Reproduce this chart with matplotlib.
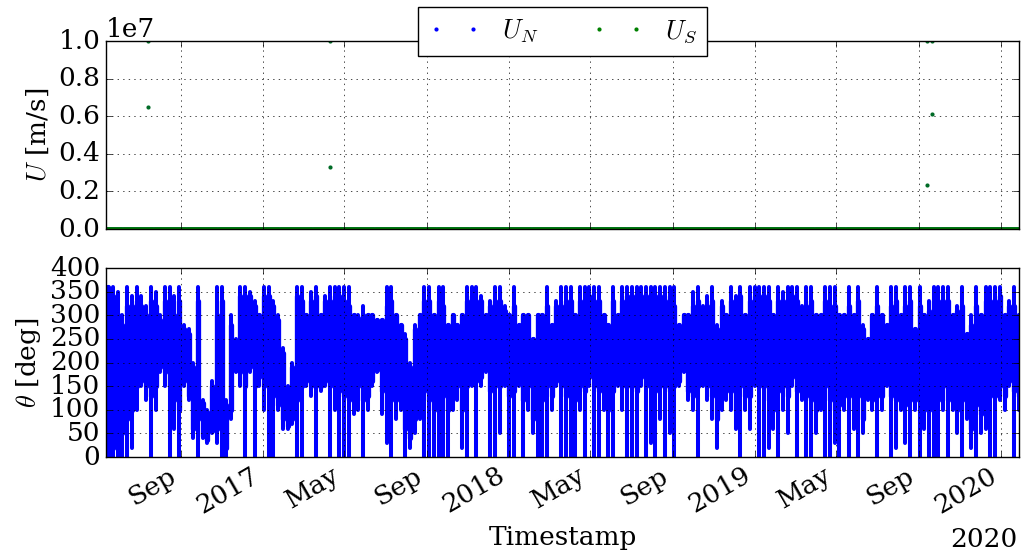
import numpy as np
import pandas as pd
import matplotlib
matplotlib.use("Agg")
import matplotlib.pyplot as plt
import matplotlib.dates as mdates

plt.style.use("classic")
plt.rcParams["font.family"] = "serif"
plt.rcParams["font.serif"] = ["DejaVu Serif"]
plt.rcParams["mathtext.fontset"] = "cm"
plt.rcParams["font.size"] = 19

# ---------------- data ----------------
week_start = "2016-05-13"      # first sample
last_sample = "2020-01-28"     # last sample
offset_label = "2020"

# weekly full extent of wind direction theta [deg] (sparse sweeps)
theta_lo = [0, 0, 0, 0, 0, 20, 100, 150, 120, 0, 100, 180, 150, 0, 60, 0, 150, 120, 40, 0,
            40, 30, 50, 30, 0, 0, 80, 180, 150, 0, 180, 0, 150, 100, 0, 0, 100, 60, 60, 70,
            0, 0, 150, 130, 0, 140, 150, 0, 100, 0, 0, 0, 90, 100, 0, 100, 150, 180, 90, 30,
            0, 80, 100, 0, 20, 50, 80, 0, 0, 0, 0, 0, 0, 100, 120, 20, 0, 150, 0, 150,
            180, 0, 0, 50, 150, 0, 0, 150, 0, 100, 50, 0, 0, 0, 100, 150, 0, 0, 0, 0,
            100, 0, 150, 0, 0, 100, 0, 0, 150, 100, 0, 0, 0, 150, 0, 30, 0, 80, 0, 50,
            0, 150, 180, 120, 100, 0, 150, 120, 80, 20, 100, 120, 100, 60, 0, 100, 60, 150, 0, 0,
            20, 60, 0, 100, 50, 150, 0, 120, 0, 0, 50, 100, 0, 0, 30, 0, 100, 0, 60, 0,
            50, 120, 100, 0, 100, 150, 0, 20, 100, 30, 0, 100, 0, 60, 0, 0, 0, 100, 0, 100,
            50, 0, 80, 20, 0, 50, 60, 0, 0, 120, 100, 150, 0, 100]
theta_hi = [360, 360, 350, 300, 360, 340, 360, 340, 320, 360, 350, 300, 360, 360, 340, 360, 280, 270, 200, 360,
            120, 100, 160, 360, 360, 120, 300, 250, 360, 360, 350, 330, 300, 360, 360, 330, 300, 230, 150, 200,
            360, 360, 300, 350, 360, 300, 340, 360, 360, 360, 360, 360, 300, 300, 320, 300, 300, 290, 290, 360,
            360, 300, 280, 260, 200, 280, 300, 360, 360, 300, 360, 360, 280, 300, 280, 300, 360, 360, 360, 340,
            300, 330, 360, 360, 320, 300, 360, 280, 300, 300, 250, 300, 300, 360, 280, 330, 360, 360, 360, 300,
            360, 360, 360, 360, 360, 300, 280, 360, 300, 360, 360, 360, 360, 360, 360, 360, 360, 360, 360, 360,
            360, 280, 300, 300, 350, 360, 320, 340, 360, 280, 330, 300, 360, 340, 360, 300, 360, 360, 360, 360,
            360, 300, 360, 350, 360, 360, 360, 320, 360, 360, 300, 300, 360, 360, 360, 300, 300, 360, 300, 360,
            280, 250, 300, 360, 300, 280, 360, 360, 300, 360, 360, 270, 360, 300, 330, 360, 360, 360, 360, 300,
            320, 360, 260, 300, 360, 300, 360, 360, 360, 360, 300, 330, 360, 300]

# weekly dense core of theta [deg]
core_lo = [0, 20, 40, 50, 80, 100, 150, 160, 150, 130,
           150, 190, 180, 150, 120, 100, 160, 130, 60, 80,
           45, 35, 55, 60, 100, 20, 100, 185, 180, 150,
           190, 150, 170, 150, 150, 130, 110, 80, 65, 80,
           120, 150, 160, 150, 150, 150, 160, 150, 150, 140,
           130, 120, 150, 150, 120, 130, 160, 185, 140, 100,
           120, 120, 120, 60, 40, 80, 120, 140, 120, 100,
           150, 130, 100, 150, 150, 100, 150, 180, 160, 170,
           190, 140, 150, 150, 170, 130, 140, 160, 120, 150,
           80, 100, 120, 150, 130, 160, 150, 130, 150, 120,
           150, 140, 170, 150, 140, 150, 100, 140, 170, 150,
           150, 150, 140, 170, 150, 150, 140, 150, 150, 140,
           150, 160, 185, 140, 130, 150, 170, 150, 130, 80,
           130, 140, 140, 100, 150, 130, 130, 180, 150, 150,
           120, 100, 140, 150, 130, 170, 140, 150, 130, 120,
           100, 130, 150, 120, 100, 110, 130, 130, 100, 130,
           80, 130, 120, 130, 130, 160, 130, 120, 130, 110,
           120, 120, 120, 100, 100, 130, 120, 150, 120, 130,
           100, 120, 100, 60, 110, 90, 120, 130, 130, 150,
           130, 160, 140, 130]
core_hi = [360, 340, 300, 280, 320, 320, 330, 320, 300, 330,
           320, 290, 330, 330, 300, 330, 270, 260, 190, 330,
           115, 95, 150, 300, 330, 110, 280, 245, 340, 340,
           340, 320, 300, 340, 340, 320, 290, 220, 145, 190,
           340, 330, 300, 330, 340, 300, 330, 330, 340, 340,
           330, 320, 300, 295, 300, 300, 300, 290, 290, 320,
           330, 300, 280, 250, 190, 270, 300, 330, 330, 300,
           330, 320, 280, 300, 280, 300, 330, 340, 330, 330,
           300, 320, 330, 330, 310, 300, 320, 280, 300, 300,
           250, 300, 300, 320, 280, 320, 320, 330, 330, 300,
           330, 330, 340, 330, 330, 300, 280, 330, 300, 330,
           340, 340, 330, 340, 340, 330, 340, 340, 330, 340,
           320, 280, 300, 300, 320, 330, 310, 320, 330, 270,
           320, 300, 330, 320, 340, 300, 330, 340, 340, 340,
           330, 300, 330, 330, 330, 340, 330, 310, 320, 330,
           300, 300, 330, 320, 320, 300, 300, 320, 300, 330,
           270, 250, 300, 320, 300, 280, 320, 330, 300, 320,
           330, 270, 320, 300, 310, 330, 330, 330, 330, 300,
           310, 320, 260, 280, 320, 300, 330, 330, 330, 340,
           300, 320, 320, 300]

# velocity outliers of U_S [m/s]; the bulk of U_N and U_S sits at ~0 on this scale
us_out_dates = ["2016-07-14", "2016-07-14", "2017-04-11", "2017-04-11",
                "2019-09-14", "2019-09-14", "2019-09-21", "2019-09-21"]
us_out_vals = [1.0e7, 6.5e6, 1.0e7, 3.3e6, 1.0e7, 2.36e6, 1.0e7, 6.13e6]
u_bulk_level = 0.0

# ---------------- figure ----------------
fig = plt.figure(figsize=(10.32, 5.58), dpi=100)
ax1 = fig.add_axes([0.1027, 0.5896, 0.8847, 0.3369])
ax2 = fig.add_axes([0.1027, 0.1810, 0.8847, 0.3387], sharex=ax1)

weeks = pd.date_range(week_start, periods=len(theta_lo), freq="7D")
centers = weeks + pd.Timedelta(days=3.5)
days = pd.date_range(week_start, last_sample, freq="D")
bulk = np.full(len(days), u_bulk_level)

ax1.plot(days, bulk, ".", color="b", markersize=6, markeredgewidth=0, label="$U_N$")
ax1.plot(days, bulk, ".", color="g", markersize=6, markeredgewidth=0, label="$U_S$")
ax1.plot(pd.to_datetime(us_out_dates), us_out_vals, ".", color=(0.0, 0.42, 0.15),
         markersize=6, markeredgewidth=0)
ax1.set_ylim(0, 1.0e7)
ax1.set_ylabel("$U$ [m/s]")
ax1.grid(True)
leg = ax1.legend(loc="upper center", bbox_to_anchor=(0.5, 1.0 + 34 / 188.0), ncol=2,
                 numpoints=2, borderaxespad=0, fontsize=19, fancybox=False)
leg.get_frame().set_linewidth(1.0)

sweep = ax2.vlines(centers, theta_lo, theta_hi, color="b", linewidth=2.9)
sweep.set_capstyle("round")
core = ax2.vlines(centers, core_lo, core_hi, color="b", linewidth=3.8)
core.set_capstyle("round")
ax2.set_ylim(0, 400)
ax2.set_ylabel(r"$\theta$ [deg]")
ax2.set_xlabel("Timestamp")
ax2.grid(True)

loc = mdates.MonthLocator(bymonth=[1, 5, 9])
ax2.xaxis.set_major_locator(loc)
ax2.xaxis.set_major_formatter(mdates.ConciseDateFormatter(loc))
ax2.set_xlim(pd.Timestamp(week_start), pd.Timestamp(last_sample))
plt.setp(ax1.get_xticklabels(), visible=False)
for lab in ax2.get_xticklabels():
    lab.set_rotation(30)
    lab.set_ha("right")
ax2.annotate(offset_label, xy=(1.0, 0.0), xycoords="axes fraction",
             xytext=(-1, -65), textcoords="offset points", ha="right", va="baseline",
             fontsize=19)

fig.savefig("out.png", dpi=100, facecolor="white")
